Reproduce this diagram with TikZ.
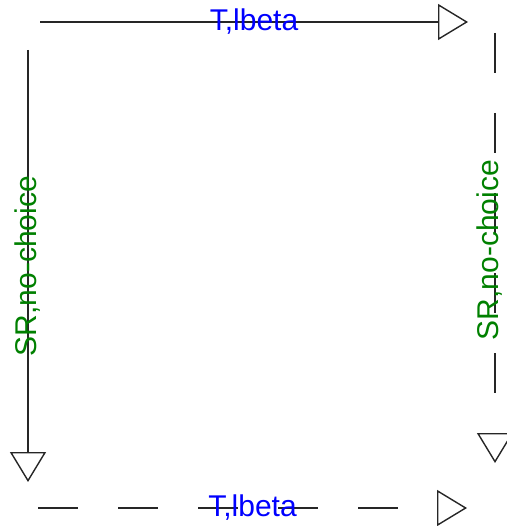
\documentclass[tikz,border=0pt]{standalone}
\usepackage{fontspec}
\setmainfont{Liberation Sans}
\usetikzlibrary{arrows.meta}
\begin{document}
\begin{tikzpicture}[x=1pt,y=-1pt,
  edge/.style={draw=black!85, line width=1.4pt,
    -{Triangle[open, length=30pt, width=36pt, line width=1.4pt]}},
  dashedge/.style={edge, dash pattern=on 40pt off 40pt},
  blbl/.style={text=blue, font=\fontsize{30}{30}\selectfont, inner sep=0pt},
  glbl/.style={text=green!50!black, font=\fontsize{30}{30}\selectfont, inner sep=0pt, rotate=90}]
\useasboundingbox (0,0) rectangle (506,526);
\coordinate (ts) at (40,22);
\coordinate (te) at (468,22);
\coordinate (ls) at (28,50);
\coordinate (le) at (28,482);
\coordinate (rs) at (495,33);
\coordinate (re) at (495,463);
\coordinate (bs) at (38,508);
\coordinate (be) at (467,508);
\draw[edge] (ts) -- node[blbl] (tl) {T,lbeta} (te);
\draw[edge] (ls) -- node[glbl] (ll) {SR,no-choice} (le);
\draw[dashedge] (rs) -- node[xshift=-5pt, yshift=-2pt, glbl] (rl) {SR,no-choice} (re);
\draw[dashedge] (bs) -- node[blbl] (bl) {T,lbeta} (be);
\end{tikzpicture}
\end{document}
